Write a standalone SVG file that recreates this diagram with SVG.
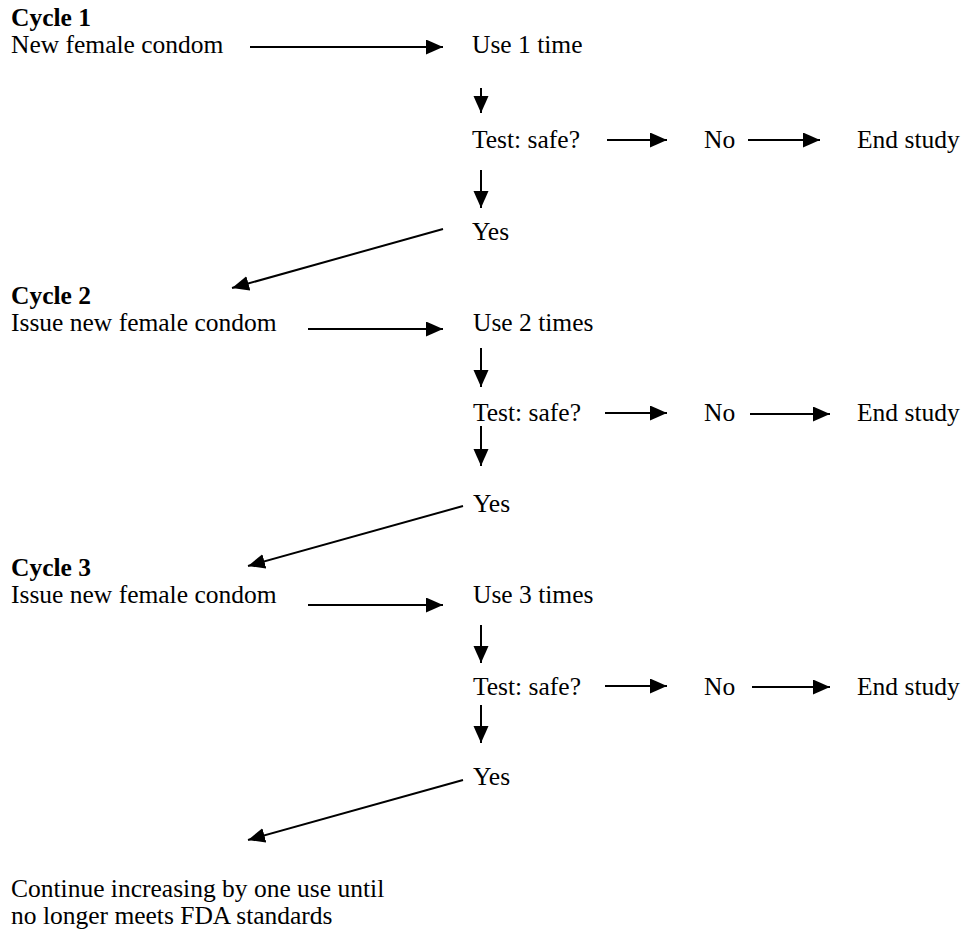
<svg xmlns="http://www.w3.org/2000/svg" width="964" height="943" viewBox="0 0 964 943">
<defs>
<style>
text{font-family:"Liberation Serif","Times New Roman",serif;font-size:25.5px;fill:#000}
.b{font-weight:bold}
.c line{stroke:#000;stroke-width:2;marker-end:url(#ah)}
</style>
<marker id="ah" markerUnits="userSpaceOnUse" markerWidth="20" markerHeight="18" refX="17" refY="7.5" orient="auto">
<path d="M0,0 L17,7.5 L0,15 z" fill="#000"/>
</marker>
</defs>
<rect width="964" height="943" fill="#fff"/>
<g id="cycle1">
<text class="b" x="11" y="26">Cycle 1</text>
<text x="11" y="53">New female condom</text>
</g>
<g id="use1"><text x="472" y="53">Use 1 time</text></g>
<g id="test1"><text x="472" y="148">Test: safe?</text></g>
<g id="no1"><text x="704" y="148">No</text></g>
<g id="end1"><text x="857" y="148">End study</text></g>
<g id="yes1"><text x="472" y="240">Yes</text></g>
<g id="cycle2">
<text class="b" x="11" y="304">Cycle 2</text>
<text x="11" y="331">Issue new female condom</text>
</g>
<g id="use2"><text x="473" y="331">Use 2 times</text></g>
<g id="test2"><text x="473" y="421">Test: safe?</text></g>
<g id="no2"><text x="704" y="421">No</text></g>
<g id="end2"><text x="857" y="421">End study</text></g>
<g id="yes2"><text x="473" y="512">Yes</text></g>
<g id="cycle3">
<text class="b" x="11" y="576">Cycle 3</text>
<text x="11" y="603">Issue new female condom</text>
</g>
<g id="use3"><text x="473" y="603">Use 3 times</text></g>
<g id="test3"><text x="473" y="695">Test: safe?</text></g>
<g id="no3"><text x="704" y="695">No</text></g>
<g id="end3"><text x="857" y="695">End study</text></g>
<g id="yes3"><text x="473" y="785">Yes</text></g>
<g id="continue">
<text x="11" y="897">Continue increasing by one use until</text>
<text x="11" y="924">no longer meets FDA standards</text>
</g>
<g id="connectors" class="c">
<line x1="250" y1="47" x2="443" y2="47"/>
<line x1="481" y1="88" x2="481" y2="113"/>
<line x1="607" y1="140" x2="667" y2="140"/>
<line x1="748" y1="140" x2="820" y2="140"/>
<line x1="481" y1="170" x2="481" y2="208"/>
<line x1="443" y1="229" x2="232" y2="288"/>
<line x1="308" y1="329" x2="443" y2="329"/>
<line x1="481" y1="348" x2="481" y2="387"/>
<line x1="605" y1="413" x2="667" y2="413"/>
<line x1="750" y1="414" x2="830" y2="414"/>
<line x1="481" y1="426" x2="481" y2="466"/>
<line x1="463" y1="506" x2="248" y2="566"/>
<line x1="308" y1="605" x2="443" y2="605"/>
<line x1="481" y1="625" x2="481" y2="663"/>
<line x1="605" y1="686" x2="667" y2="686"/>
<line x1="752" y1="687" x2="830" y2="687"/>
<line x1="481" y1="705" x2="481" y2="743"/>
<line x1="463" y1="780" x2="248" y2="840"/>
</g>
</svg>
